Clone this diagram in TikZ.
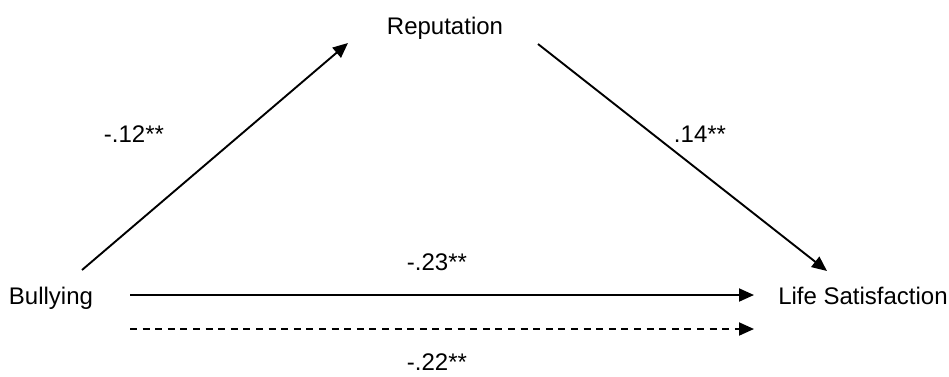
\documentclass[tikz,border=0pt]{standalone}
\usepackage{fontspec}
\setmainfont{Liberation Sans}
\usetikzlibrary{arrows.meta}

\begin{document}
\begin{tikzpicture}[
  x=0.5pt, y=-0.5pt,
  var/.style={font=\fontsize{12}{14}\selectfont, inner sep=0pt},
  coef/.style={font=\fontsize{12}{14}\selectfont, inner sep=0pt},
  arr/.style={-{Triangle[length=7.5pt, width=6.5pt]}, line width=0.95pt},
]
  \useasboundingbox (0,0) rectangle (949,376);

  % -- Variables --
  \node[var] (rep) at (445,28) {Reputation};
  \node[var] (bully) at (51,298) {Bullying};
  \node[var] (life) at (863,296) {Life Satisfaction};

  % -- Arrow end points --
  \coordinate (a1) at (82,270);
  \coordinate (a2) at (348,43);
  \coordinate (b1) at (538,44);
  \coordinate (b2) at (827,271);
  \coordinate (c1) at (130,295);
  \coordinate (c2) at (754,295);
  \coordinate (d1) at (130,329);
  \coordinate (d2) at (754,329);

  % -- Paths --
  \draw[arr] (a1) -- (a2);
  \draw[arr] (b1) -- (b2);
  \draw[arr] (c1) -- (c2);
  \draw[arr, dash pattern=on 3.5pt off 2.8pt] (d1) -- (d2);

  % -- Coefficients --
  \node[coef] (ca) at (134,134) {-.12**};
  \node[coef] (cb) at (700,134) {.14**};
  \node[coef] (cc) at (437,262) {-.23**};
  \node[coef] (cd) at (437,362) {-.22**};
\end{tikzpicture}
\end{document}
